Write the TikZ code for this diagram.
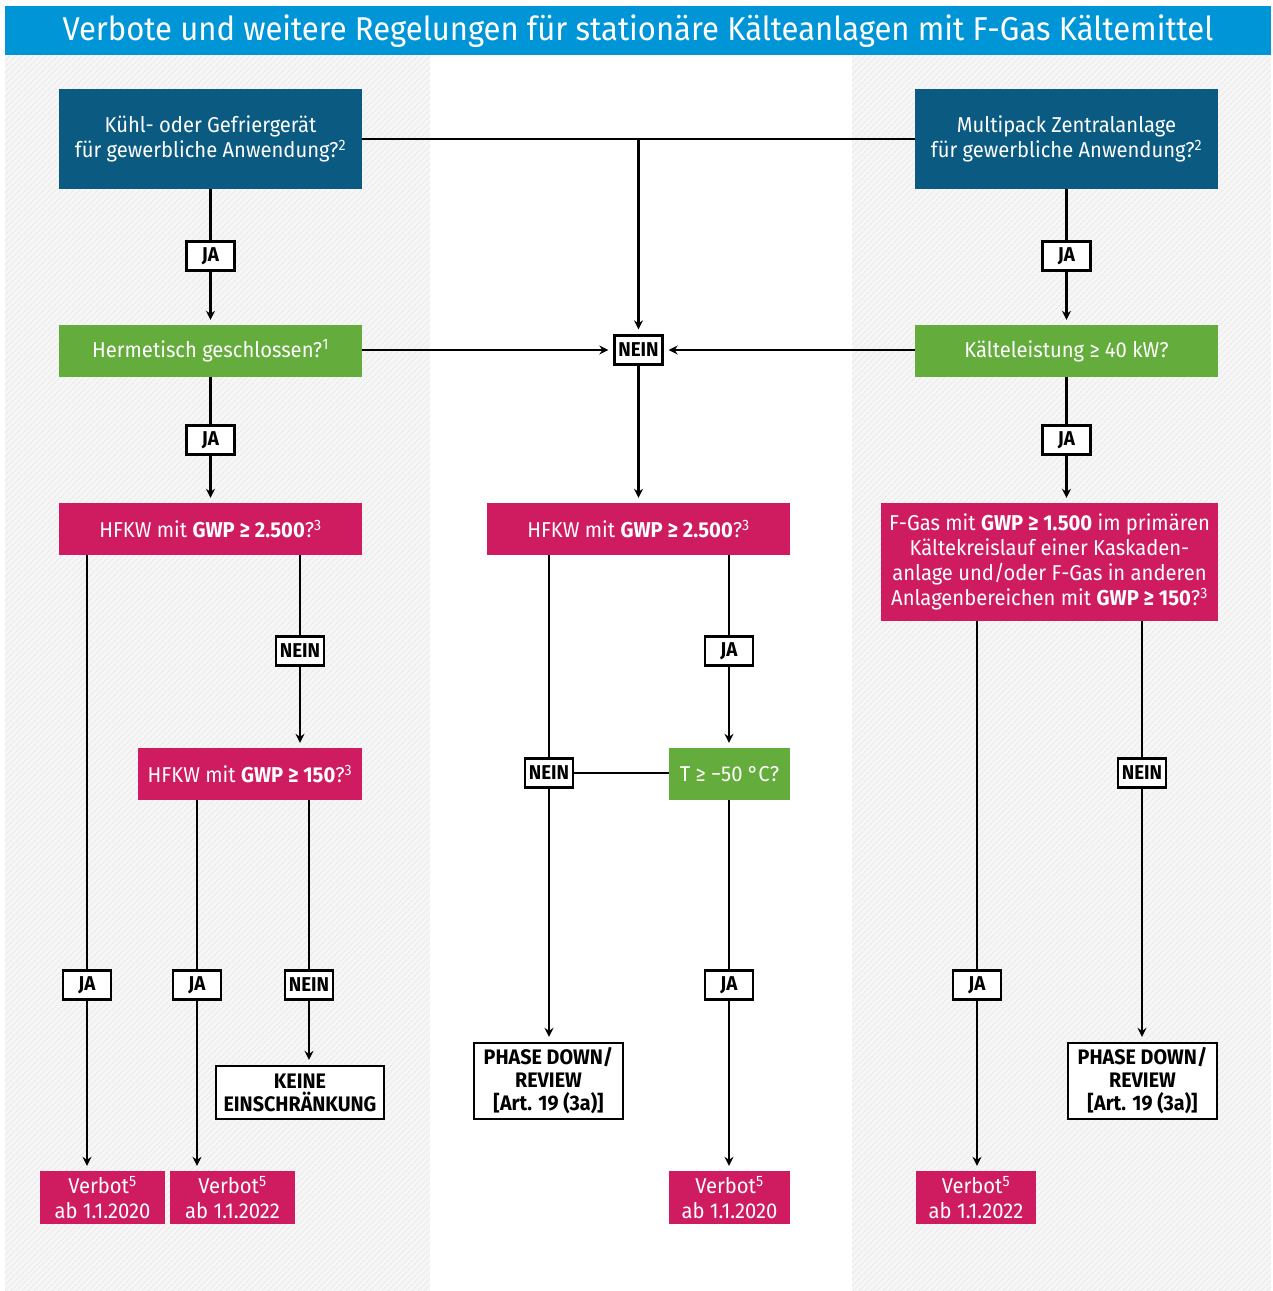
\documentclass[tikz,border=0pt]{standalone}
\usepackage{fontspec}
\setmainfont{Fira Sans}[FakeStretch=0.94]
\usetikzlibrary{arrows.meta,patterns.meta}
\definecolor{titleblue}{HTML}{0095D6}
\definecolor{darkblue}{HTML}{0A5A82}
\definecolor{qgreen}{HTML}{64AD3C}
\definecolor{qred}{HTML}{CF1B5F}
\tikzset{
  box/.style={inner sep=2pt, align=center, text=white, font=\fontsize{21.5}{25}\selectfont},
  bluebox/.style={box, fill=darkblue, minimum width=303pt, minimum height=100pt},
  greenbox/.style={box, fill=qgreen, minimum height=52pt},
  redbox/.style={box, fill=qred, minimum height=52pt},
  answer/.style={draw=black, line width=2.3pt, fill=white, font=\bfseries\fontsize{20}{22}\selectfont, minimum width=48pt, minimum height=29pt, inner sep=2pt},
  result/.style={draw=black, line width=2.3pt, fill=white, align=center, font=\bfseries\fontsize{21}{23}\selectfont},
  link/.style={line width=2.3pt},
  arrow/.style={link, -{Stealth[length=9pt,width=9pt,inset=3pt]}, shorten >=5pt},
}
\begin{document}
\begin{tikzpicture}[x=1pt,y=-1pt]
\useasboundingbox (0,0) rectangle (1273,1291);
% hatched side columns
\fill[gray!7] (5,55) rectangle (430,1291);
\fill[gray!7] (852,55) rectangle (1271,1291);
\fill[pattern={Lines[angle=45,distance=4pt,line width=0.6pt]}, pattern color=gray!25] (5,55) rectangle (430,1291);
\fill[pattern={Lines[angle=45,distance=4pt,line width=0.6pt]}, pattern color=gray!25] (852,55) rectangle (1271,1291);
% title
\fill[titleblue] (5,6) rectangle (1271,55);
\node[text=white, font=\fontsize{33}{36}\selectfont] (title) at (638,31) {Verbote und weitere Regelungen für stationäre Kälteanlagen mit F-Gas Kältemittel};

% questions
\node[bluebox] (kuehl) at (210.5,139) {Kühl- oder Gefriergerät\\für gewerbliche Anwendung?\textsuperscript{2}};
\node[bluebox] (multi) at (1066.5,139) {Multipack Zentralanlage\\für gewerbliche Anwendung?\textsuperscript{2}};
\node[greenbox, minimum width=303pt] (herm) at (210.5,351) {Hermetisch geschlossen?\textsuperscript{1}};
\node[greenbox, minimum width=303pt] (kaelte) at (1066.5,351) {Kälteleistung ≥ 40 kW?};
\node[redbox, minimum width=303pt] (hfkwL) at (210.5,529) {HFKW mit \textbf{GWP ≥ 2.500}?\textsuperscript{3}};
\node[redbox, minimum width=303pt] (hfkwM) at (638.5,529) {HFKW mit \textbf{GWP ≥ 2.500}?\textsuperscript{3}};
\node[redbox, minimum width=337pt, minimum height=118pt] (fgas) at (1049.5,562) {F-Gas mit \textbf{GWP ≥ 1.500} im primären\\Kältekreislauf einer Kaskaden-\\anlage und/oder F-Gas in anderen\\Anlagenbereichen mit \textbf{GWP ≥ 150}?\textsuperscript{3}};
\node[redbox, minimum width=224pt] (hfkwS) at (250,774) {HFKW mit \textbf{GWP ≥ 150}?\textsuperscript{3}};
\node[greenbox, minimum width=121pt] (temp) at (729.5,774) {T ≥ −50 °C?};

% results
\node[result, minimum width=168pt, minimum height=53pt] (keine) at (300,1092.5) {KEINE\\EINSCHRÄNKUNG};
\node[result, minimum width=149pt, minimum height=76pt] (phaseM) at (548.5,1081) {PHASE DOWN/\\REVIEW\\{[}Art. 19 (3a)]};
\node[result, minimum width=149pt, minimum height=76pt] (phaseR) at (1142.5,1081) {PHASE DOWN/\\REVIEW\\{[}Art. 19 (3a)]};
\node[redbox, minimum width=125pt, minimum height=53pt] (verbotA) at (102.5,1197.5) {Verbot\textsuperscript{5}\\ab 1.1.2020};
\node[redbox, minimum width=125pt, minimum height=53pt] (verbotB) at (232.5,1197.5) {Verbot\textsuperscript{5}\\ab 1.1.2022};
\node[redbox, minimum width=121pt, minimum height=53pt] (verbotC) at (729.5,1197.5) {Verbot\textsuperscript{5}\\ab 1.1.2020};
\node[redbox, minimum width=120pt, minimum height=53pt] (verbotD) at (976,1197.5) {Verbot\textsuperscript{5}\\ab 1.1.2022};

% answers
\node[answer] (jaA) at (210.5,256) {JA};
\node[answer] (jaB) at (210.5,440) {JA};
\node[answer] (jaC) at (1066.5,256) {JA};
\node[answer] (jaD) at (1066.5,440) {JA};
\node[answer] (neinTop) at (638.5,350) {NEIN};
\node[answer] (neinA) at (300,651) {NEIN};
\node[answer] (jaE) at (729,651) {JA};
\node[answer] (neinM) at (549,773) {NEIN};
\node[answer] (neinR) at (1142,773) {NEIN};
\node[answer] (jaF) at (87,985) {JA};
\node[answer] (jaG) at (197,985) {JA};
\node[answer] (neinB) at (309,985) {NEIN};
\node[answer] (jaH) at (729,985) {JA};
\node[answer] (jaI) at (977,985) {JA};

% top part
\coordinate (split) at (neinTop |- kuehl.east);
\draw[link] (kuehl.east) -- (multi.west);
\draw[arrow] (split) -- (neinTop.north);
\draw[link] (kuehl.south) -- (jaA.north);
\draw[arrow] (jaA.south) -- (herm.north);
\draw[link] (multi.south) -- (jaC.north);
\draw[arrow] (jaC.south) -- (kaelte.north);
\draw[arrow] (herm.east |- neinTop) -- (neinTop.west);
\draw[arrow] (kaelte.west |- neinTop) -- (neinTop.east);
\draw[arrow] (neinTop.south) -- (hfkwM.north);
\draw[link] (herm.south) -- (jaB.north);
\draw[arrow] (jaB.south) -- (hfkwL.north);
\draw[link] (kaelte.south) -- (jaD.north);
\draw[arrow] (jaD.south) -- (jaD.south |- fgas.north);

% left column
\draw[link] (hfkwL.south -| jaF) -- (jaF.north);
\draw[arrow] (jaF.south) -- (jaF.south |- verbotA.north);
\draw[link] (hfkwL.south -| neinA) -- (neinA.north);
\draw[arrow] (neinA.south) -- (neinA.south |- hfkwS.north);
\draw[link] (hfkwS.south -| jaG) -- (jaG.north);
\draw[arrow] (jaG.south) -- (jaG.south |- verbotB.north);
\draw[link] (hfkwS.south -| neinB) -- (neinB.north);
\draw[arrow] (neinB.south) -- (neinB.south |- keine.north);

% middle column
\draw[link] (hfkwM.south -| neinM) -- (neinM.north);
\draw[arrow] (neinM.south) -- (neinM.south |- phaseM.north);
\draw[link] (hfkwM.south -| jaE) -- (jaE.north);
\draw[arrow] (jaE.south) -- (jaE.south |- temp.north);
\draw[link] (neinM.east) -- (neinM.east -| temp.west);
\draw[link] (temp.south -| jaH) -- (jaH.north);
\draw[arrow] (jaH.south) -- (jaH.south |- verbotC.north);

% right column
\draw[link] (fgas.south -| jaI) -- (jaI.north);
\draw[arrow] (jaI.south) -- (jaI.south |- verbotD.north);
\draw[link] (fgas.south -| neinR) -- (neinR.north);
\draw[arrow] (neinR.south) -- (neinR.south |- phaseR.north);
\end{tikzpicture}
\end{document}
